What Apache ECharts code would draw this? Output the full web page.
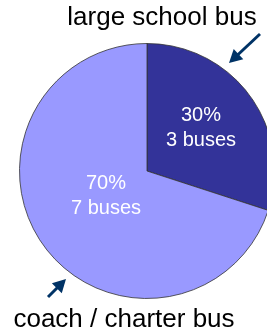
<!DOCTYPE html>
<html>
<head>
<meta charset="utf-8">
<script src="https://cdn.jsdelivr.net/npm/echarts@6/dist/echarts.min.js"></script>
<style>
  html, body { margin: 0; padding: 0; background: #fff; }
  #chart { width: 267px; height: 335px; }
</style>
</head>
<body>
<div id="chart"></div>
<script>
// bus types and counts
var busTypes = ['large school bus', 'coach / charter bus']
var busCounts = [3, 7]
var sliceColors = ['#333399', '#9999FF']

// nudges for the inside labels (the original puts them off the default radius)
var labelShift = [[0, -4], [13, -14]]

var myChart = echarts.init(document.getElementById('chart'))

// arrow made of a shaft and a triangle head, from tail to tip
function arrow(tail, tip) {
  var dx = tip[0] - tail[0]
  var dy = tip[1] - tail[1]
  var len = Math.sqrt(dx * dx + dy * dy)
  var ux = dx / len
  var uy = dy / len
  var headLen = 13
  var headHalf = 7
  var bx = tip[0] - ux * headLen
  var by = tip[1] - uy * headLen
  return {
    type: 'group',
    children: [
      {
        type: 'line',
        shape: { x1: tail[0], y1: tail[1], x2: bx + ux * 2, y2: by + uy * 2 },
        style: { stroke: '#003366', lineWidth: 3 }
      },
      {
        type: 'polygon',
        shape: {
          points: [
            tip,
            [bx - uy * headHalf, by + ux * headHalf],
            [bx + uy * headHalf, by - ux * headHalf]
          ]
        },
        style: { fill: '#003366' }
      }
    ]
  }
}

var data = busTypes.map(function (name, i) {
  return {
    name: name,
    value: busCounts[i],
    itemStyle: { color: sliceColors[i] }
  }
})

myChart.setOption({
  animation: false,
  backgroundColor: '#ffffff',
  graphic: [
    {
      type: 'text',
      x: 162,
      y: 18,
      style: {
        text: busTypes[0],
        font: '26px "Liberation Sans", Arial, sans-serif',
        fill: '#000',
        align: 'center',
        verticalAlign: 'middle'
      }
    },
    {
      type: 'text',
      x: 124,
      y: 320,
      style: {
        text: busTypes[1],
        font: '26px "Liberation Sans", Arial, sans-serif',
        fill: '#000',
        align: 'center',
        verticalAlign: 'middle'
      }
    },
    arrow([260, 34], [229, 63]),
    arrow([48, 297], [66, 279])
  ],
  series: [
    {
      name: 'buses',
      type: 'pie',
      center: [147, 171],
      radius: [0, 127.5],
      startAngle: 90,
      clockwise: true,
      silent: true,
      itemStyle: {
        borderColor: '#333333',
        borderWidth: 0.8
      },
      label: {
        position: 'inside',
        color: '#fff',
        fontSize: 20,
        lineHeight: 25,
        fontFamily: '"Liberation Sans", Arial, sans-serif',
        formatter: function (p) {
          return Math.round(p.percent) + '%\n' + p.value + ' buses'
        }
      },
      labelLayout: function (params) {
        var s = labelShift[params.dataIndex]
        return { dx: s[0], dy: s[1] }
      },
      labelLine: { show: false },
      data: data
    }
  ]
})
</script>
</body>
</html>
